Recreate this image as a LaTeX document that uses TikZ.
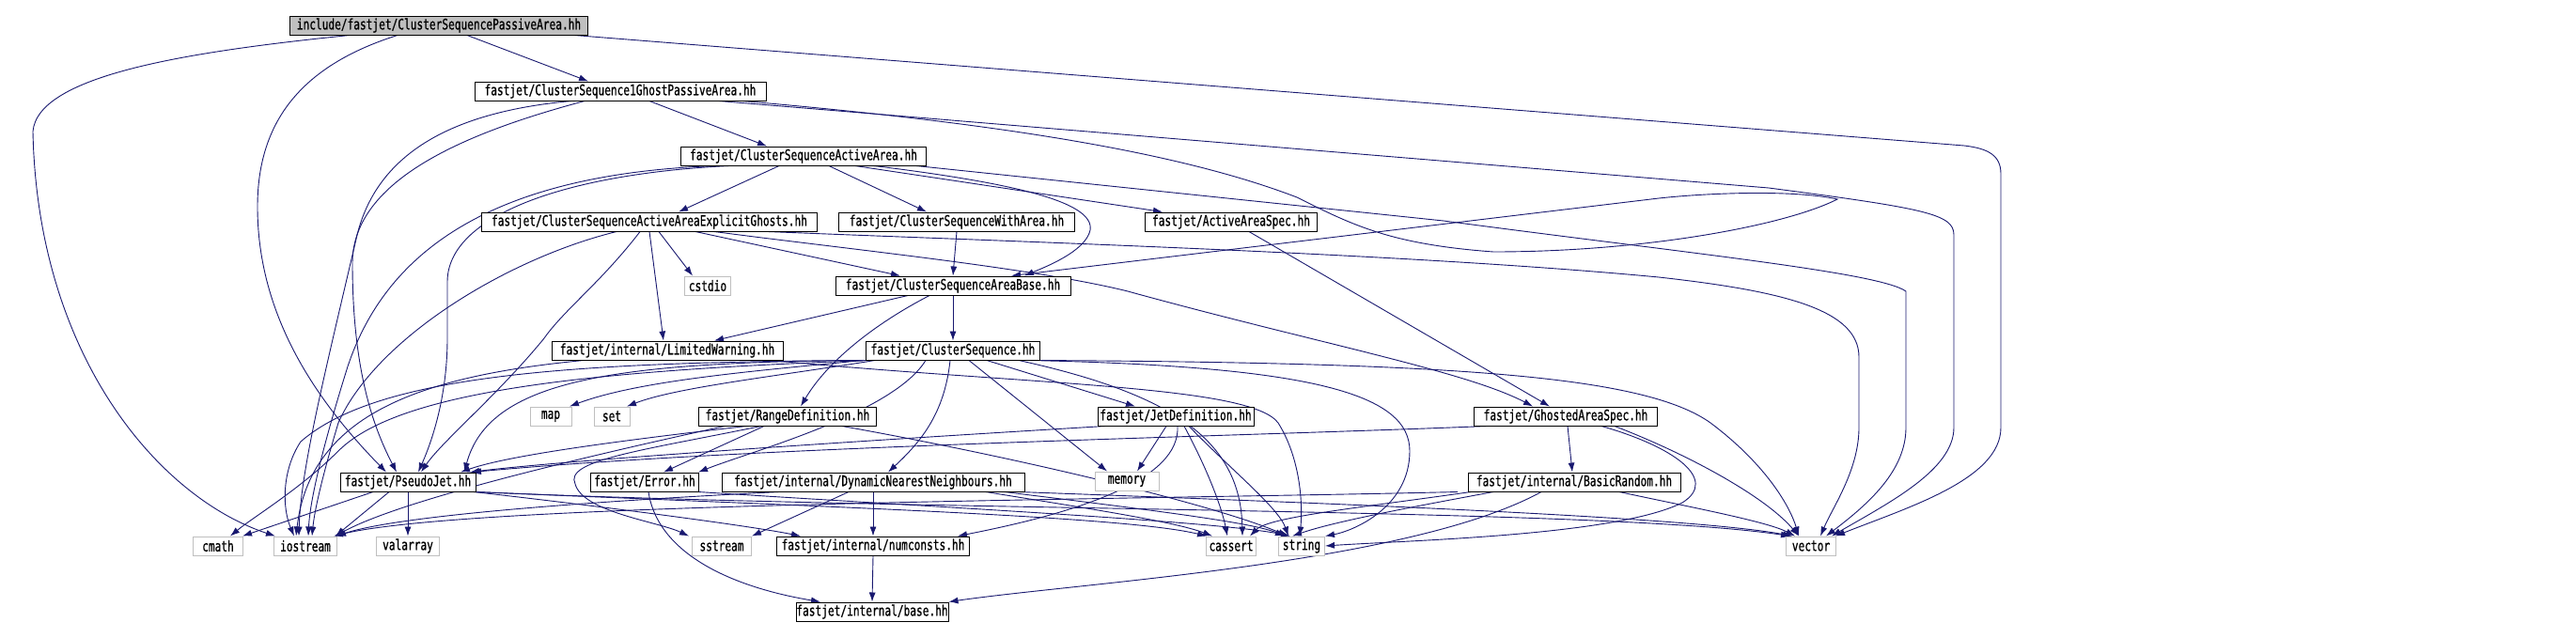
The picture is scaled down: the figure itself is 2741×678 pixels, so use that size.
\documentclass[tikz,border=0pt]{standalone}
\usepackage{fontspec}
\newfontfamily\doxfont[FakeStretch=0.72,FakeBold=0.8]{DejaVu Sans Mono}
\usetikzlibrary{arrows.meta,backgrounds}
\definecolor{edgeblue}{HTML}{191970}
\definecolor{sysgray}{HTML}{BFBFBF}
\begin{document}
\begin{tikzpicture}[x=1pt,y=-1pt,
  hdr/.style={draw=black,line width=1pt,fill=white,minimum height=20pt,inner sep=0pt,
    font=\doxfont\fontsize{15.5}{17}\selectfont},
  sys/.style={hdr,draw=sysgray},
  e/.style={draw=edgeblue,line width=0.9pt,-{Latex[length=10pt,width=7pt]}}]
\useasboundingbox (0,0) rectangle (2741,678);
% nodes
\node[hdr,fill=sysgray,minimum width=317pt] (root) at (467,27) {include/fastjet/ClusterSequencePassiveArea.hh};
\node[hdr,minimum width=310pt] (ghost1) at (660,97) {fastjet/ClusterSequence1GhostPassiveArea.hh};
\node[hdr,minimum width=261pt] (active) at (855,166) {fastjet/ClusterSequenceActiveArea.hh};
\node[hdr,minimum width=357pt] (explicit) at (691,236) {fastjet/ClusterSequenceActiveAreaExplicitGhosts.hh};
\node[hdr,minimum width=251pt] (witharea) at (1018,236) {fastjet/ClusterSequenceWithArea.hh};
\node[hdr,minimum width=183pt] (aas) at (1310,236) {fastjet/ActiveAreaSpec.hh};
\node[sys,minimum width=49pt] (cstdio) at (753,304) {cstdio};
\node[hdr,minimum width=250pt] (areabase) at (1014,304) {fastjet/ClusterSequenceAreaBase.hh};
\node[hdr,minimum width=246pt] (limited) at (710,373) {fastjet/internal/LimitedWarning.hh};
\node[hdr,minimum width=185pt] (cs) at (1014,373) {fastjet/ClusterSequence.hh};
\node[sys,minimum width=44pt] (map) at (586,443) {map};
\node[sys,minimum width=38pt] (set) at (651,443) {set};
\node[hdr,minimum width=189pt] (range) at (838,443) {fastjet/RangeDefinition.hh};
\node[hdr,minimum width=166pt] (jetdef) at (1251,443) {fastjet/JetDefinition.hh};
\node[hdr,minimum width=195pt] (ghosted) at (1666,443) {fastjet/GhostedAreaSpec.hh};
\node[hdr,minimum width=144pt] (pseudo) at (434,513) {fastjet/PseudoJet.hh};
\node[hdr,minimum width=115pt] (error) at (686,513) {fastjet/Error.hh};
\node[hdr,minimum width=322pt] (dnn) at (929,513) {fastjet/internal/DynamicNearestNeighbours.hh};
\node[sys,minimum width=68pt] (memory) at (1199,512) {memory};
\node[hdr,minimum width=226pt] (basicrandom) at (1675,513) {fastjet/internal/BasicRandom.hh};
\node[sys,minimum width=53pt] (cmath) at (232,581) {cmath};
\node[sys,minimum width=67pt] (iostream) at (325,581) {iostream};
\node[sys,minimum width=67pt] (valarray) at (434,581) {valarray};
\node[sys,minimum width=63pt] (sstream) at (768,581) {sstream};
\node[hdr,minimum width=205pt] (numconsts) at (929,581) {fastjet/internal/numconsts.hh};
\node[sys,minimum width=53pt] (cassert) at (1310,581) {cassert};
\node[sys,minimum width=49pt] (string) at (1385,581) {string};
\node[sys,minimum width=53pt] (vector) at (1927,581) {vector};
\node[hdr,minimum width=162pt] (base) at (928,651) {fastjet/internal/base.hh};
\begin{scope}[on background layer]
\fill[white] (0,0) rectangle (2741,678);
% root
\draw[e] ([xshift=30]root.south) -- ([xshift=-34]ghost1.north);
\draw[e] ([xshift=-95]root.south) .. controls (200,55) and (40,80) .. (35,140) .. controls (40,380) and (170,530) .. ([xshift=-32]iostream.north);
\draw[e] ([xshift=-44]root.south) .. controls (320,70) and (274,130) .. (274,220) .. controls (274,330) and (330,420) .. ([xshift=-23]pseudo.north);
\draw[e] ([xshift=144]root.south) -- (2090,155) .. controls (2115,158) and (2129,165) .. (2129,185) -- (2129,455) .. controls (2129,510) and (2030,540) .. ([xshift=26]vector.north);
% ghost1
\draw[e] ([xshift=31]ghost1.south) -- ([xshift=-39]active.north);
\draw[e] ([xshift=-52]ghost1.south) .. controls (470,120) and (400,170) .. (380,250) .. controls (345,400) and (320,500) .. ([xshift=-7]iostream.north);
\draw[e] ([xshift=-38]ghost1.south) .. controls (500,140) and (375,190) .. (375,280) .. controls (375,400) and (400,460) .. ([xshift=-12]pseudo.north);
\draw[e] ([xshift=105]ghost1.south) -- (1882,200) .. controls (2050,222) and (2079,228) .. (2079,250) -- (2079,455) .. controls (2079,500) and (2010,535) .. ([xshift=22]vector.north);
\draw[e] ([xshift=130]ghost1.south) .. controls (1050,130) and (1250,160) .. (1380,210) .. controls (1440,240) and (1480,260) .. (1589,268) .. controls (1750,268) and (1900,240) .. (1955,212) .. controls (1910,202) and (1820,205) .. (1765,211) -- ([xshift=62]areabase.north);
% active
\draw[e] ([xshift=-26]active.south) -- ([xshift=31]explicit.north);
\draw[e] ([xshift=27]active.south) -- ([xshift=-32]witharea.north);
\draw[e] ([xshift=55]active.south) -- ([xshift=-73]aas.north);
\draw[e] ([xshift=75]active.south) .. controls (1080,195) and (1165,215) .. (1160,245) .. controls (1155,268) and (1110,285) .. ([xshift=76]areabase.north);
\draw[e] ([xshift=120]active.south) -- (1536,235) .. controls (1800,270) and (2000,290) .. (2028,310) -- (2028,455) .. controls (2028,500) and (1990,535) .. ([xshift=16]vector.north);
\draw[e] ([xshift=-93]active.south) .. controls (520,185) and (410,270) .. (370,390) .. controls (345,470) and (330,530) .. ([xshift=3]iostream.north);
\draw[e] ([xshift=-79]active.south) .. controls (600,185) and (476,230) .. (476,300) -- (476,360) .. controls (476,430) and (455,480) .. ([xshift=11]pseudo.north);
% explicit
\draw[e] ([xshift=-35]explicit.south) .. controls (540,275) and (400,360) .. (360,450) .. controls (345,500) and (335,540) .. ([xshift=7]iostream.north);
\draw[e] ([xshift=-10]explicit.south) .. controls (640,300) and (600,330) .. (579,360) .. controls (530,420) and (470,470) .. ([xshift=14]pseudo.north);
\draw[e] (explicit.south) -- ([xshift=-4]limited.north);
\draw[e] ([xshift=10]explicit.south) -- ([xshift=-16]cstdio.north);
\draw[e] ([xshift=49]explicit.south) -- ([xshift=-56]areabase.north);
\draw[e] ([xshift=69]explicit.south) .. controls (900,265) and (1100,285) .. (1200,310) .. controls (1400,365) and (1560,395) .. ([xshift=-35]ghosted.north);
\draw[e] ([xshift=126]explicit.south) .. controls (1100,258) and (1500,270) .. (1765,295) .. controls (1900,310) and (1978,330) .. (1978,380) -- (1978,455) .. controls (1978,500) and (1950,540) .. ([xshift=10]vector.north);
% witharea, aas, areabase
\draw[e] (witharea.south) -- (areabase.north);
\draw[e] ([xshift=19]aas.south) -- ([xshift=-17]ghosted.north);
\draw[e] ([xshift=-48]areabase.south) -- ([xshift=50]limited.north);
\draw[e] (areabase.south) -- (cs.north);
\draw[e] ([xshift=-25]areabase.south) .. controls (930,345) and (880,385) .. ([xshift=14]range.north);
% limited
\draw[e] ([xshift=-89]limited.south) .. controls (450,400) and (330,440) .. ([xshift=-10]iostream.north);
\draw[e] ([xshift=110]limited.south) .. controls (1100,410) and (1330,410) .. (1360,450) .. controls (1385,490) and (1386,540) .. ([xshift=-2]string.north);
% cluster sequence
\draw[e] ([xshift=-95]cs.south) .. controls (800,395) and (680,405) .. ([xshift=20]map.north);
\draw[e] ([xshift=-83]cs.south) .. controls (830,400) and (720,412) .. ([xshift=16]set.north);
\draw[e] ([xshift=-90]cs.south) .. controls (650,385) and (520,405) .. ([xshift=60]pseudo.north);
\draw[e] ([xshift=-92]cs.south) .. controls (600,385) and (400,400) .. (320,470) .. controls (300,500) and (300,540) .. ([xshift=-12]iostream.north);
\draw[e] ([xshift=-88]cs.south) .. controls (600,395) and (420,420) .. (360,480) .. controls (320,520) and (270,550) .. ([xshift=13]cmath.north);
\draw[e] ([xshift=-29]cs.south) .. controls (950,440) and (800,480) .. ([xshift=57]error.north);
\draw[e] ([xshift=-3]cs.south) .. controls (1005,440) and (980,470) .. ([xshift=16]dnn.north);
\draw[e] ([xshift=17]cs.south) -- ([xshift=-21]memory.north);
\draw[e] ([xshift=36]cs.south) -- ([xshift=-43]jetdef.north);
\draw[e] ([xshift=70]cs.south) .. controls (1250,420) and (1320,470) .. ([xshift=12]cassert.north);
\draw[e] ([xshift=81]cs.south) .. controls (1400,390) and (1500,420) .. (1500,480) .. controls (1500,540) and (1440,565) .. (string.north east);
\draw[e] ([xshift=90]cs.south) .. controls (1550,386) and (1750,400) .. (1820,450) .. controls (1880,495) and (1905,540) .. ([xshift=-13]vector.north);
% range
\draw[e] ([xshift=-44]range.south) .. controls (650,470) and (540,485) .. ([xshift=56]pseudo.north);
\draw[e] ([xshift=-25]range.south) -- ([xshift=20]error.north);
\draw[e] ([xshift=-67]range.south) .. controls (650,480) and (430,530) .. ([xshift=32]iostream.north);
\draw[e] ([xshift=-28]range.south) .. controls (680,480) and (600,490) .. (612,515) .. controls (620,545) and (700,555) .. ([xshift=-35]sstream.north);
\draw[e] ([xshift=58]range.south) .. controls (1100,490) and (1300,540) .. ([xshift=-15]string.north);
% jetdef
\draw[e] ([xshift=-75]jetdef.south) .. controls (900,470) and (600,490) .. ([xshift=66]pseudo.north);
\draw[e] ([xshift=-10]jetdef.south) -- ([xshift=11]memory.north);
\draw[e] ([xshift=2]jetdef.south) .. controls (1256,510) and (1150,545) .. ([xshift=90]numconsts.north);
\draw[e] ([xshift=9]jetdef.south) .. controls (1285,500) and (1300,540) .. ([xshift=-4]cassert.north);
\draw[e] ([xshift=14]jetdef.south) .. controls (1310,500) and (1360,540) .. ([xshift=-14]string.north);
% ghosted
\draw[e] ([xshift=-84]ghosted.south) .. controls (1300,465) and (800,475) .. ([xshift=68]pseudo.north);
\draw[e] ([xshift=2]ghosted.south) -- ([xshift=-2]basicrandom.north);
\draw[e] ([xshift=38]ghosted.south) .. controls (1780,475) and (1830,510) .. (1790,535) .. controls (1720,570) and (1500,575) .. (string.east);
\draw[e] ([xshift=52]ghosted.south) .. controls (1800,485) and (1880,530) .. ([xshift=-13]vector.north);
% basic random
\draw[e] ([xshift=-124]basicrandom.south) .. controls (1200,532) and (500,535) .. ([xshift=30]iostream.north);
\draw[e] ([xshift=-110]basicrandom.south) .. controls (1450,540) and (1350,550) .. ([xshift=20]cassert.north);
\draw[e] ([xshift=-86]basicrandom.south) .. controls (1500,540) and (1420,555) .. ([xshift=-10]string.north);
\draw[e] ([xshift=48]basicrandom.south) .. controls (1800,540) and (1880,555) .. ([xshift=-17]vector.north);
\draw[e] ([xshift=-35]basicrandom.south) .. controls (1500,600) and (1150,620) .. (base.north east);
% pseudo
\draw[e] (pseudo.south) -- (valarray.north);
\draw[e] ([xshift=-37]pseudo.south) -- ([xshift=26]cmath.north);
\draw[e] ([xshift=-20]pseudo.south) -- ([xshift=32]iostream.north);
\draw[e] ([xshift=70]pseudo.south) .. controls (650,540) and (800,560) .. ([xshift=-77]numconsts.north);
\draw[e] ([xshift=72]pseudo.south) .. controls (1000,545) and (1700,540) .. ([xshift=-22]vector.north);
\draw[e] ([xshift=71]pseudo.south) .. controls (900,540) and (1200,550) .. ([xshift=-26]cassert.north);
% dnn
\draw[e] (dnn.south) -- (numconsts.north);
\draw[e] ([xshift=-26]dnn.south) -- ([xshift=32]sstream.north);
\draw[e] ([xshift=-100]dnn.south) .. controls (600,535) and (420,550) .. ([xshift=33]iostream.north);
\draw[e] ([xshift=120]dnn.south) .. controls (1150,540) and (1250,555) .. ([xshift=-20]cassert.north);
\draw[e] ([xshift=140]dnn.south) .. controls (1200,540) and (1330,555) .. ([xshift=-18]string.north);
\draw[e] ([xshift=155]dnn.south) .. controls (1400,535) and (1800,550) .. ([xshift=-20]vector.north);
% error, numconsts
\draw[e] ([xshift=57]error.south) .. controls (1000,540) and (1300,555) .. ([xshift=-12]string.north);
\draw[e] ([xshift=4]error.south) .. controls (700,590) and (780,625) .. ([xshift=-55]base.north);
\draw[e] (numconsts.south) -- (base.north);
\end{scope}
\end{tikzpicture}
\end{document}
